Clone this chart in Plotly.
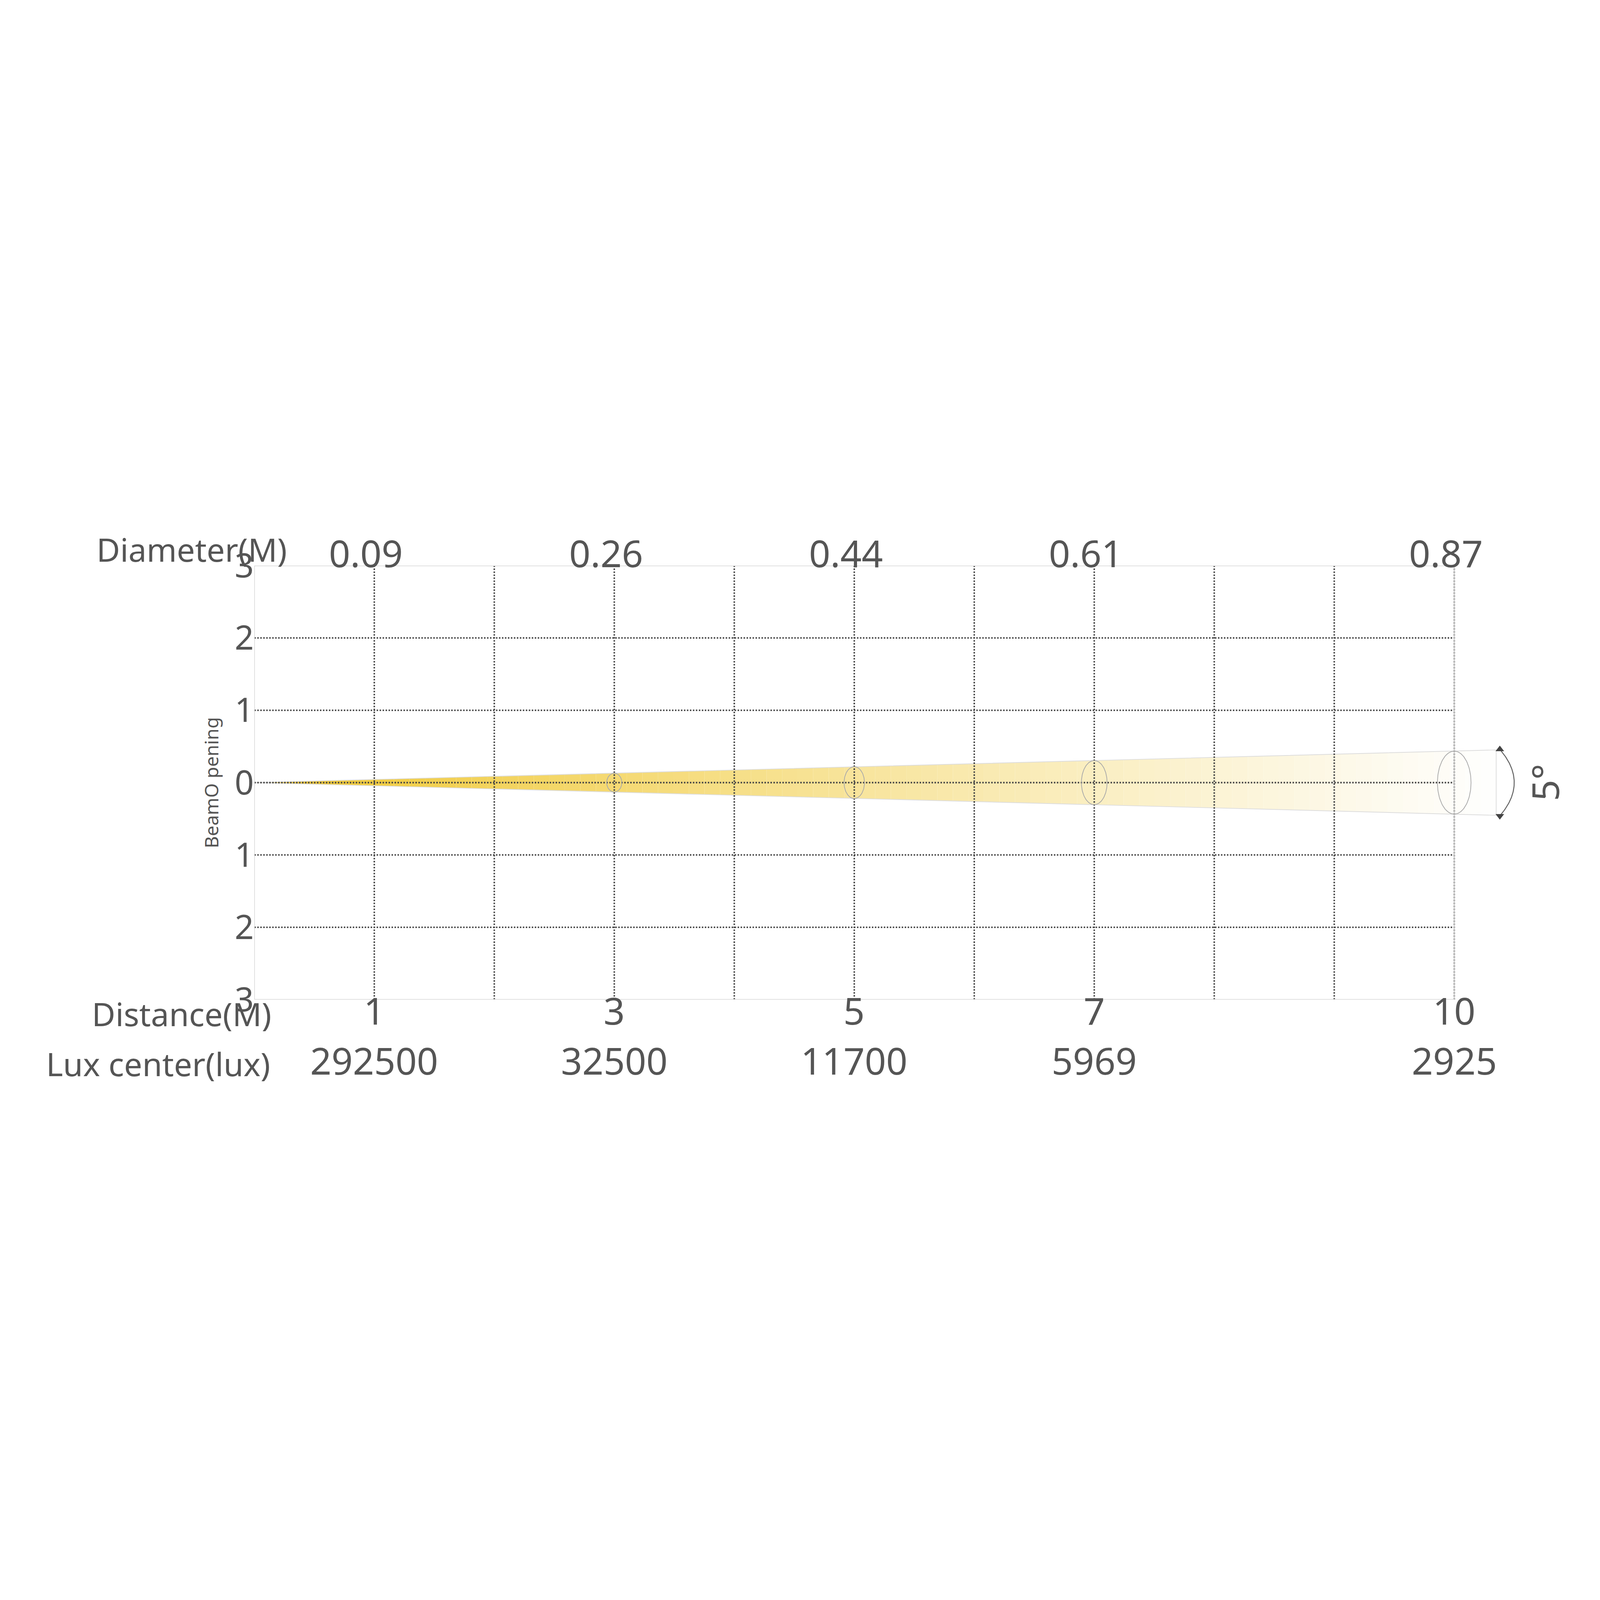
import plotly.graph_objects as go
import numpy as np

distances = [1, 3, 5, 7, 10]
diameters = ["0.09", "0.26", "0.44", "0.61", "0.87"]
diameter_vals = [0.09, 0.26, 0.44, 0.61, 0.87]
lux = ["292500", "32500", "11700", "5969", "2925"]
beam_angle = 5
y_ticks = [-3, -2, -1, 0, 1, 2, 3]
y_labels = ["3", "2", "1", "0", "1", "2", "3"]

S = 4060 / 6379  # page appears rendered at ~1.57 device pixel ratio
def p(v):
    return v * S

W = 6379
FONT = "Noto Sans"
TXT = "#555555"
fig = go.Figure()

t = np.tan(np.radians(beam_angle / 2))
xend = 10.35
n = 80
c0 = np.array([240, 198, 40]); c1 = np.array([255, 255, 255])
for i in range(n):
    a, b = xend * i / n, xend * (i + 1) / n
    f = (i + 0.5) / n
    c = c0 + (c1 - c0) * f ** 0.85
    fig.add_trace(go.Scatter(x=[a, b, b, a, a], y=[a*t, b*t, -b*t, -a*t, a*t], fill="toself",
                             fillcolor="rgb(%d,%d,%d)" % tuple(c), line=dict(width=0), mode="lines",
                             hoverinfo="skip", showlegend=False))
fig.add_trace(go.Scatter(x=[0, xend, xend, 0], y=[0, xend*t, -xend*t, 0], mode="lines",
                         line=dict(color="#dddddd", width=p(3)), showlegend=False, hoverinfo="skip"))

for gx in range(1, 11):
    fig.add_trace(go.Scatter(x=[gx, gx], y=[-3, 3], mode="lines", line=dict(color="#444", width=p(6), dash="dot"),
                             showlegend=False, hoverinfo="skip"))
for gy in [-2, -1, 0, 1, 2]:
    fig.add_trace(go.Scatter(x=[0, 10], y=[gy, gy], mode="lines", line=dict(color="#444", width=p(6), dash="dot"),
                             showlegend=False, hoverinfo="skip"))
fig.add_trace(go.Scatter(x=[0, 10, 10, 0, 0], y=[-3, -3, 3, 3, -3], mode="lines",
                         line=dict(color="#d0d0d0", width=p(4)), showlegend=False, hoverinfo="skip"))

for d, dv in zip(distances[1:], diameter_vals[1:]):
    th = np.linspace(0, 2*np.pi, 100)
    w = 0.03 + 0.011 * d
    fig.add_trace(go.Scatter(x=d + w*np.cos(th), y=dv/2*np.sin(th), mode="lines",
                             line=dict(color="#aaaaaa", width=p(3)), showlegend=False, hoverinfo="skip"))

th = np.linspace(-1, 1, 60)
ax = 10.38 + 0.12 * (1 - th**2)
ay = th * 0.46
fig.add_trace(go.Scatter(x=ax, y=ay, mode="lines", line=dict(color="#666", width=p(4)),
                         showlegend=False, hoverinfo="skip"))
fig.add_trace(go.Scatter(x=[ax[0], ax[-1]], y=[ay[0], ay[-1]], mode="markers",
                         marker=dict(symbol=["triangle-down", "triangle-up"], size=p(30), color="#444"),
                         showlegend=False, hoverinfo="skip"))
fig.add_annotation(x=10.75, y=0, text="5°", textangle=-90, showarrow=False,
                   font=dict(family=FONT, size=p(150), color=TXT))

def ann(x, y, text, anchor="center", size=150):
    fig.add_annotation(x=x, y=y, xref="x", yref="paper", text=text, showarrow=False, xanchor=anchor,
                       font=dict(family=FONT, size=p(size), color=TXT))

ann(0.28, 1.09, "Diameter(M)", "right", 130)
ann(0.15, -0.085, "Distance(M)", "right", 130)
ann(0.14, -0.2, "Lux center(lux)", "right", 130)
for d, dm, lx in zip(distances, diameters, lux):
    ann(d - 0.07, 1.09, dm)
    ann(d, -0.085, str(d))
    ann(d, -0.2, lx)

fig.update_layout(
    width=p(W), height=p(W), paper_bgcolor="white", plot_bgcolor="white",
    margin=dict(l=p(1010), r=p(60), t=p(2262), b=p(2371)),
    xaxis=dict(range=[0, 11], showgrid=False, zeroline=False, showticklabels=False, showline=False),
    yaxis=dict(range=[-3, 3], tickvals=y_ticks, ticktext=y_labels, showgrid=False, zeroline=False,
               showline=False, ticks="", tickfont=dict(family=FONT, size=p(135), color=TXT),
               title=dict(text="BeamO pening", font=dict(family=FONT, size=p(75), color=TXT), standoff=p(40))),
)
fig.write_html("out.html")
